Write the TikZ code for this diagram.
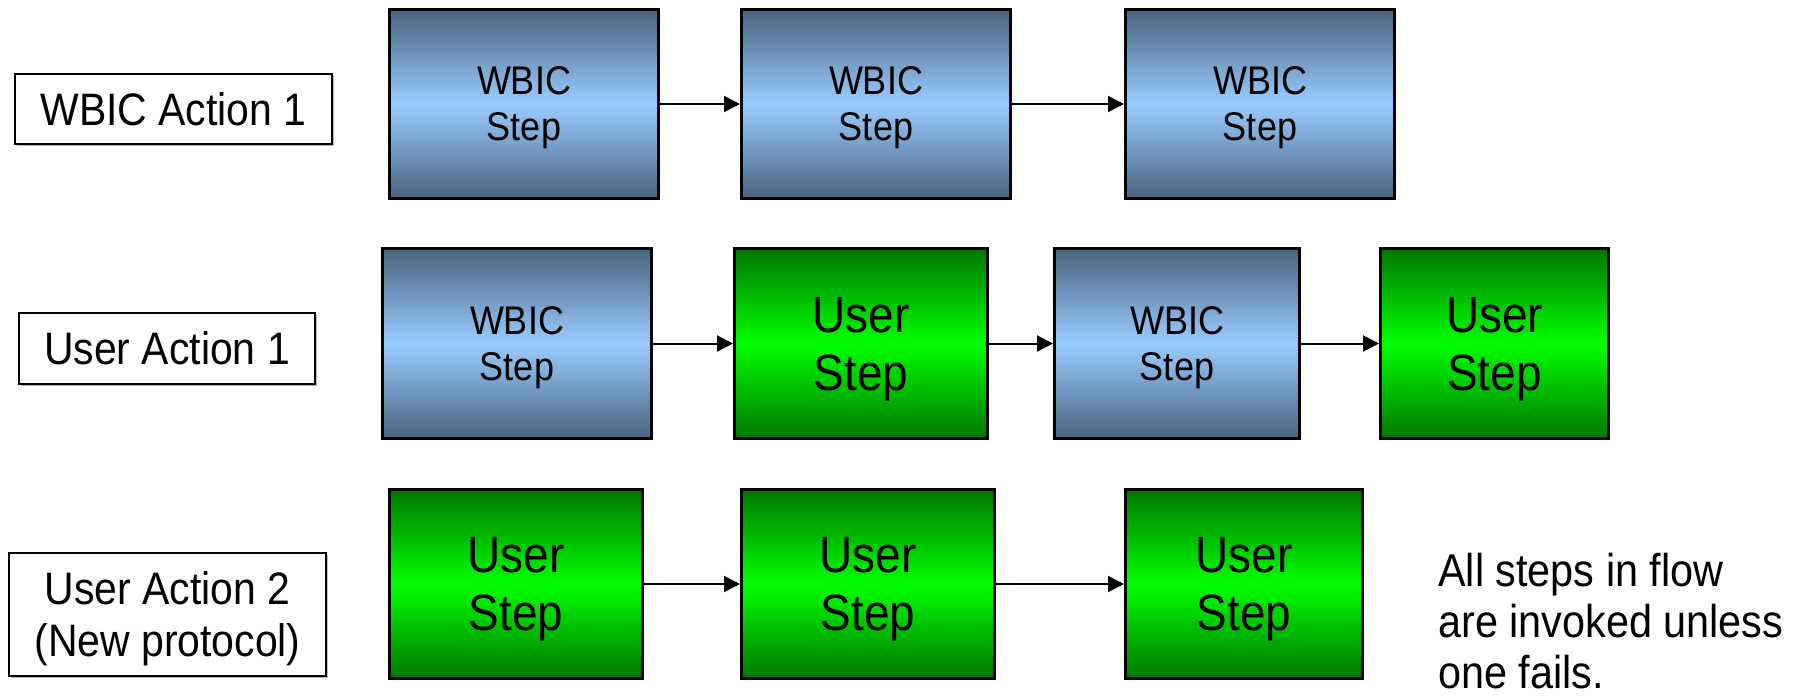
\documentclass[tikz,border=0pt]{standalone}
\usepackage{fontspec}
\setmainfont{Liberation Sans}[FakeStretch=0.9]
\usetikzlibrary{arrows.meta,shadings,shadows}
\definecolor{wbicdark}{RGB}{74,99,126}
\definecolor{wbiclight}{RGB}{153,204,255}
\definecolor{userdark}{RGB}{0,118,0}
\definecolor{userlight}{RGB}{0,255,0}
\begin{document}
\begin{tikzpicture}[x=1pt,y=-1pt,
  labelbox/.style={draw=black, line width=2pt, fill=white, inner sep=0pt, align=center, text depth=0pt,
    drop shadow={shadow xshift=1.5pt, shadow yshift=-1.5pt, fill=gray!70, opacity=0.8},
    font=\fontsize{45.5}{52}\selectfont},
  stepbox/.style={draw=black, line width=3pt, inner sep=0pt, align=center, text depth=0pt},
  wbicbox/.style={stepbox, top color=wbicdark, bottom color=wbicdark, middle color=wbiclight,
    font=\fontsize{40}{46}\selectfont},
  userbox/.style={stepbox, top color=userdark, bottom color=userdark, middle color=userlight,
    font=\fontsize{51}{58}\selectfont},
  arr/.style={line width=2pt, -{Triangle[length=16pt,width=16pt]}},
  note/.style={inner sep=0pt, align=left, anchor=base west, font=\fontsize{46}{51}\selectfont}
]
\useasboundingbox (0,0) rectangle (1810,696);

% labels
\node[labelbox, minimum width=317, minimum height=70] (L1) at (173.5,109) {WBIC Action 1};
\node[labelbox, minimum width=296, minimum height=71] (L2) at (167,348.5) {User Action 1};
\node[labelbox, minimum width=317, minimum height=123] (L3) at (167.5,614.5) {User Action 2\\(New protocol)};

% row 1
\node[wbicbox, minimum width=269, minimum height=189] (A1) at (524,104) {WBIC\\Step};
\node[wbicbox, minimum width=269, minimum height=189] (A2) at (876,104) {WBIC\\Step};
\node[wbicbox, minimum width=269, minimum height=189] (A3) at (1260,104) {WBIC\\Step};

% row 2
\node[wbicbox, minimum width=269, minimum height=190] (B1) at (517,343.5) {WBIC\\Step};
\node[userbox, minimum width=253, minimum height=190] (B2) at (861,343.5) {User\\Step};
\node[wbicbox, minimum width=245, minimum height=190] (B3) at (1177,343.5) {WBIC\\Step};
\node[userbox, minimum width=228, minimum height=190] (B4) at (1494.5,343.5) {User\\Step};

% row 3
\node[userbox, minimum width=253, minimum height=189] (C1) at (516,584) {User\\Step};
\node[userbox, minimum width=253, minimum height=189] (C2) at (868,584) {User\\Step};
\node[userbox, minimum width=237, minimum height=189] (C3) at (1244,584) {User\\Step};

% arrows
\draw[arr] (A1.east) -- (A2.west);
\draw[arr] (A2.east) -- (A3.west);
\draw[arr] (B1.east) -- (B2.west);
\draw[arr] (B2.east) -- (B3.west);
\draw[arr] (B3.east) -- (B4.west);
\draw[arr] (C1.east) -- (C2.west);
\draw[arr] (C2.east) -- (C3.west);

% note
\node[note] (N) at (1438,688) {All steps in flow\\are invoked unless\\one fails.};
\end{tikzpicture}
\end{document}
